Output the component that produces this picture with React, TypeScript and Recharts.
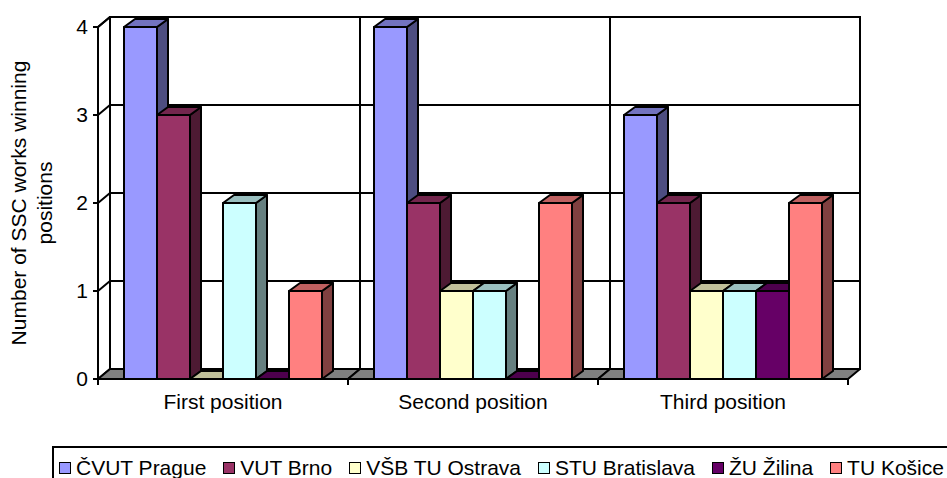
import React from "react";
import {
  BarChart,
  Bar,
  XAxis,
  YAxis,
  CartesianGrid,
  ReferenceArea,
  Legend,
} from "recharts";

const categories = ["First position", "Second position", "Third position"];
const cvut = [4, 4, 3];
const vut = [3, 2, 2];
const vsb = [0, 1, 1];
const stu = [2, 1, 1];
const zu = [0, 0, 1];
const tu = [1, 2, 2];
const yTicks = [0, 1, 2, 3, 4];

const series = [
  { key: "cvut", name: "ČVUT Prague", values: cvut, color: "#9999FF" },
  { key: "vut", name: "VUT Brno", values: vut, color: "#993366" },
  { key: "vsb", name: "VŠB TU Ostrava", values: vsb, color: "#FFFFCC" },
  { key: "stu", name: "STU Bratislava", values: stu, color: "#CCFFFF" },
  { key: "zu", name: "ŽU Žilina", values: zu, color: "#660066" },
  { key: "tu", name: "TU Košice", values: tu, color: "#FF8080" },
];

const data = categories.map((name, i) => {
  const row: any = { name };
  series.forEach((s) => (row[s.key] = s.values[i]));
  return row;
});

const FONT = "Arial, 'Liberation Sans', sans-serif";
// depth of the 3d walls / floor and of the bars
const DX = 12;
const DY = 10;
const BDX = 11;
const BDY = 8;
const SW = 2;

const shade = (hex: string, f: number) => {
  const n = parseInt(hex.slice(1), 16);
  const r = Math.round(((n >> 16) & 255) * f);
  const g = Math.round(((n >> 8) & 255) * f);
  const b = Math.round((n & 255) * f);
  return `rgb(${r},${g},${b})`;
};

const Bar3D = (props: any) => {
  const { x, y, width, height, color } = props;
  if (x == null || y == null) return null;
  const r = x + width;
  const b = y + height;
  return (
    <g stroke="#000" strokeWidth={SW} strokeLinejoin="round">
      <polygon
        points={`${r},${b} ${r},${y} ${r + BDX},${y - BDY} ${r + BDX},${b - BDY}`}
        fill={shade(color, 0.5)}
      />
      <polygon
        points={`${x},${y} ${x + BDX},${y - BDY} ${r + BDX},${y - BDY} ${r},${y}`}
        fill={shade(color, 0.75)}
      />
      {height > 0 && <rect x={x} y={y} width={width} height={height} fill={color} />}
    </g>
  );
};

const Walls = (p: any) => {
  const { x, y, width, height } = p;
  return (
    <g fill="none" stroke="#000" strokeWidth={SW}>
      <rect x={x + DX} y={y - DY} width={width} height={height} />
      <line x1={x} y1={y} x2={x + DX} y2={y - DY} />
    </g>
  );
};

const FloorCell = (p: any) => {
  const { x, y, width, height } = p;
  const b = y + height;
  const r = x + width;
  return (
    <g stroke="#000" strokeWidth={SW}>
      <line x1={r + DX} y1={y - DY} x2={r + DX} y2={b - DY} />
      <polygon
        points={`${x},${b} ${x + DX},${b - DY} ${r + DX},${b - DY} ${r},${b}`}
        fill="#808080"
        strokeLinejoin="round"
      />
      <line x1={x} y1={b} x2={x} y2={b + 6} />
      <line x1={r} y1={b} x2={r} y2={b + 6} />
    </g>
  );
};

const gridLine = (p: any) => (
  <path
    key={`h-${p.index}`}
    d={`M${p.x1},${p.y1} L${p.x1 + DX},${p.y1 - DY} L${p.x2 + DX},${p.y2 - DY}`}
    fill="none"
    stroke="#000"
    strokeWidth={SW}
  />
);

const YTitle = (p: any) => {
  const vb = p.viewBox || { y: 27, height: 352 };
  const cy = vb.y + vb.height / 2;
  return (
    <g fontSize={21} fill="#000" fontFamily={FONT}>
      <text x={26} y={cy} transform={`rotate(-90 26 ${cy})`} textAnchor="middle">
        Number of SSC works winning
      </text>
      <text x={52} y={cy} transform={`rotate(-90 52 ${cy})`} textAnchor="middle">
        positions
      </text>
    </g>
  );
};

const LegendBox = () => (
  <div
    style={{
      borderTop: "2px solid #000",
      borderLeft: "2px solid #000",
      height: 40,
      display: "flex",
      alignItems: "center",
      paddingLeft: 5,
      fontFamily: FONT,
      fontSize: 21,
      color: "#000",
      whiteSpace: "nowrap",
    }}
  >
    {series.map((s) => (
      <span key={s.key} style={{ display: "flex", alignItems: "center", marginRight: 17 }}>
        <span
          style={{
            width: 10,
            height: 10,
            border: "1.5px solid #000",
            background: s.color,
            marginRight: 5,
            display: "inline-block",
          }}
        />
        {s.name}
      </span>
    ))}
  </div>
);

export default function App() {
  return (
    <div
      style={{
        position: "absolute",
        left: 0,
        top: 0,
        width: 947,
        height: 478,
        overflow: "hidden",
        background: "#fff",
      }}
    >
      <BarChart
        width={947}
        height={478}
        data={data}
        margin={{ top: 27, right: 99, bottom: 59, left: 0 }}
        barCategoryGap="10.4%"
        barGap={0}
      >
        <CartesianGrid vertical={false} horizontal={gridLine} />
        <ReferenceArea y1={0} y2={4} shape={<Walls />} ifOverflow="visible" />
        {categories.map((c) => (
          <ReferenceArea
            key={c}
            x1={c}
            x2={c}
            y1={0}
            y2={4}
            shape={<FloorCell />}
            ifOverflow="visible"
          />
        ))}
        <XAxis
          dataKey="name"
          axisLine={false}
          tickLine={false}
          tickSize={0}
          tickMargin={15}
          height={40}
          tick={{ fill: "#000", fontSize: 21, fontFamily: FONT }}
        />
        <YAxis
          domain={[0, 4]}
          ticks={yTicks}
          interval={0}
          width={98}
          tickSize={5}
          tickMargin={5}
          axisLine={{ stroke: "#000", strokeWidth: SW }}
          tickLine={{ stroke: "#000", strokeWidth: SW }}
          tick={{ fill: "#000", fontSize: 21, fontFamily: FONT }}
          label={{ content: YTitle }}
        />
        {series.map((s) => (
          <Bar
            key={s.key}
            dataKey={s.key}
            name={s.name}
            fill={s.color}
            isAnimationActive={false}
            shape={(p: any) => <Bar3D {...p} color={s.color} />}
          />
        ))}
        <Legend
          layout="horizontal"
          verticalAlign="middle"
          align="center"
          content={<LegendBox />}
          wrapperStyle={{ position: "absolute", left: 52, top: 446, width: 905, height: 42 }}
        />
      </BarChart>
    </div>
  );
}
